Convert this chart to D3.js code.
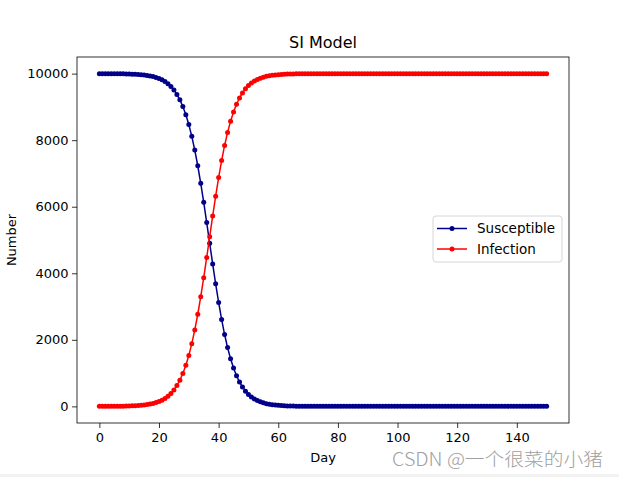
<!DOCTYPE html>
<html>
<head>
<meta charset="utf-8">
<script src="https://cdn.jsdelivr.net/npm/d3@7"></script>
<style>
  html, body { margin: 0; padding: 0; background: #fff; }
  svg { display: block; }
  text { font-family: "DejaVu Sans", sans-serif; fill: #000; }
</style>
</head>
<body>
<svg id="chart" width="619" height="477"></svg>
<script>
// ---- data ----
const title = "SI Model";
const xLabel = "Day";
const yLabel = "Number";
const seriesNames = ["Susceptible", "Infection"];
const seriesColors = ["#00008b", "#ff0000"];
const xTicks = [0, 20, 40, 60, 80, 100, 120, 140];
const yTicks = [0, 2000, 4000, 6000, 8000, 10000];
const watermark = "CSDN @一个很菜的小猪";

const susceptible = [
  9999, 9999, 9998, 9998, 9997, 9997, 9996, 9994, 9993, 9991,
  9988, 9984, 9980, 9974, 9967, 9958, 9946, 9930, 9911, 9886,
  9854, 9813, 9761, 9695, 9612, 9507, 9376, 9213, 9012, 8766,
  8469, 8116, 7703, 7232, 6705, 6131, 5524, 4901, 4281, 3682,
  3122, 2612, 2159, 1766, 1431, 1151, 920, 731, 579, 457,
  359, 282, 221, 173, 135, 106, 82, 64, 50, 39,
  30, 24, 18, 14, 11, 9, 7, 5, 4, 3,
  3, 2, 2, 1, 1, 1, 1, 0, 0, 0,
  0, 0, 0, 0, 0, 0, 0, 0, 0, 0,
  0, 0, 0, 0, 0, 0, 0, 0, 0, 0,
  0, 0, 0, 0, 0, 0, 0, 0, 0, 0,
  0, 0, 0, 0, 0, 0, 0, 0, 0, 0,
  0, 0, 0, 0, 0, 0, 0, 0, 0, 0,
  0, 0, 0, 0, 0, 0, 0, 0, 0, 0,
  0, 0, 0, 0, 0, 0, 0, 0, 0, 0,
  0
];
const infection = [
  1, 1, 2, 2, 3, 3, 4, 6, 7, 9,
  12, 16, 20, 26, 33, 42, 54, 70, 89, 114,
  146, 187, 239, 305, 388, 493, 624, 787, 988, 1234,
  1531, 1884, 2297, 2768, 3295, 3869, 4476, 5099, 5719, 6318,
  6878, 7388, 7841, 8234, 8569, 8849, 9080, 9269, 9421, 9543,
  9641, 9718, 9779, 9827, 9865, 9894, 9918, 9936, 9950, 9961,
  9970, 9976, 9982, 9986, 9989, 9991, 9993, 9995, 9996, 9997,
  9997, 9998, 9998, 9999, 9999, 9999, 9999, 10000, 10000, 10000,
  10000, 10000, 10000, 10000, 10000, 10000, 10000, 10000, 10000, 10000,
  10000, 10000, 10000, 10000, 10000, 10000, 10000, 10000, 10000, 10000,
  10000, 10000, 10000, 10000, 10000, 10000, 10000, 10000, 10000, 10000,
  10000, 10000, 10000, 10000, 10000, 10000, 10000, 10000, 10000, 10000,
  10000, 10000, 10000, 10000, 10000, 10000, 10000, 10000, 10000, 10000,
  10000, 10000, 10000, 10000, 10000, 10000, 10000, 10000, 10000, 10000,
  10000, 10000, 10000, 10000, 10000, 10000, 10000, 10000, 10000, 10000,
  10000
];
const days = d3.range(susceptible.length);

// ---- layout ----
const svg = d3.select("#chart");
const plot = { left: 77, right: 569, top: 57, bottom: 423 };

const x = d3.scaleLinear().domain([-7.5, 157.5]).range([plot.left, plot.right]);
const y = d3.scaleLinear().domain([-500, 10500]).range([plot.bottom, plot.top]);

// bottom grey strip (page edge)
svg.append("rect").attr("x", 0).attr("y", 474).attr("width", 619).attr("height", 3).attr("fill", "#f2f2f2");

// title
svg.append("text").attr("x", (plot.left + plot.right) / 2).attr("y", 48)
  .attr("text-anchor", "middle").style("font-size", "16px").text(title);

// axes
const xAxis = d3.axisBottom(x).tickValues(xTicks).tickSize(5).tickPadding(5);
const yAxis = d3.axisLeft(y).tickValues(yTicks).tickSize(5).tickPadding(3.5).tickFormat(d3.format("d"));

const gx = svg.append("g").attr("transform", `translate(0,${plot.bottom})`).call(xAxis);
const gy = svg.append("g").attr("transform", `translate(${plot.left},0)`).call(yAxis);
[gx, gy].forEach(g => {
  g.select(".domain").remove();
  g.selectAll(".tick line").attr("stroke", "#000").attr("stroke-width", 0.8);
  g.selectAll(".tick text").style("font-size", "13px").attr("fill", "#000")
    .style("font-family", "DejaVu Sans, sans-serif");
});

// lines + markers
const series = [susceptible, infection];
const lineGen = d3.line().x((d, i) => x(days[i])).y(d => y(d));

series.forEach((vals, k) => {
  const g = svg.append("g");
  g.append("path").datum(vals).attr("d", lineGen)
    .attr("fill", "none").attr("stroke", seriesColors[k]).attr("stroke-width", 1.5)
    .attr("stroke-linejoin", "round");
  g.selectAll("circle").data(vals).join("circle")
    .attr("cx", (d, i) => x(days[i])).attr("cy", d => y(d)).attr("r", 2.5)
    .attr("fill", seriesColors[k]);
});

// frame
svg.append("rect").attr("x", plot.left).attr("y", plot.top)
  .attr("width", plot.right - plot.left).attr("height", plot.bottom - plot.top)
  .attr("fill", "none").attr("stroke", "#000").attr("stroke-width", 0.8);

// axis labels
svg.append("text").attr("x", (plot.left + plot.right) / 2).attr("y", 462)
  .attr("text-anchor", "middle").style("font-size", "13px").text(xLabel);
svg.append("text").attr("transform", `translate(16,${(plot.top + plot.bottom) / 2}) rotate(-90)`)
  .attr("text-anchor", "middle").style("font-size", "13px").text(yLabel);

// legend
const lg = svg.append("g");
lg.append("rect").attr("x", 433).attr("y", 216).attr("width", 129).attr("height", 46)
  .attr("rx", 3).attr("fill", "#fff").attr("fill-opacity", 0.8)
  .attr("stroke", "#d6d6d6").attr("stroke-width", 1);
seriesNames.forEach((name, k) => {
  const ly = 228.5 + k * 20.5;
  lg.append("line").attr("x1", 437).attr("x2", 467).attr("y1", ly).attr("y2", ly)
    .attr("stroke", seriesColors[k]).attr("stroke-width", 1.5);
  lg.append("circle").attr("cx", 452).attr("cy", ly).attr("r", 2.5).attr("fill", seriesColors[k]);
  lg.append("text").attr("x", 477).attr("y", ly + 4.5).style("font-size", "13.5px").text(name);
});

// watermark
svg.append("text").attr("x", 392).attr("y", 466)
  .style("font-family", "'Noto Sans CJK SC', 'Noto Sans', sans-serif")
  .style("font-size", "18.5px").style("fill", "#a0a0a0").style("font-weight", 300)
  .attr("textLength", 211).attr("lengthAdjust", "spacingAndGlyphs")
  .text(watermark);
</script>
</body>
</html>
